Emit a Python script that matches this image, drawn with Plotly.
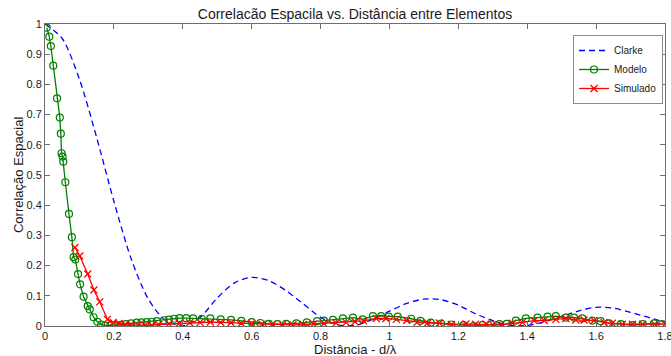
import plotly.graph_objects as go

# ---- data ----
clarke_x = [0.00, 0.05, 0.10, 0.15, 0.20, 0.25, 0.30, 0.35, 0.40, 0.45, 0.50, 0.55,
            0.60, 0.65, 0.70, 0.75, 0.80, 0.85, 0.90, 0.95, 1.00, 1.05, 1.10, 1.15,
            1.20, 1.25, 1.30, 1.35, 1.40, 1.45, 1.50, 1.55, 1.60, 1.65, 1.70, 1.75, 1.80]
clarke_y = [1.000, 0.952, 0.817, 0.624, 0.413, 0.223, 0.089, 0.018, 0.001, 0.028, 0.093, 0.143,
            0.161, 0.150, 0.117, 0.073, 0.029, 0.004, 0.002, 0.021, 0.049, 0.075, 0.089, 0.087,
            0.069, 0.040, 0.018, 0.002, 0.002, 0.014, 0.032, 0.050, 0.062, 0.059, 0.045, 0.029, 0.012]

modelo_x = [0.005, 0.0125, 0.017, 0.024, 0.035, 0.043, 0.046, 0.048, 0.051, 0.053, 0.059, 0.0696,
            0.078, 0.083, 0.088, 0.096, 0.102, 0.112, 0.124, 0.130, 0.141, 0.152, 0.163, 0.175,
            0.19, 0.205, 0.22, 0.235, 0.25, 0.266, 0.28, 0.295, 0.31, 0.325, 0.345, 0.36,
            0.375, 0.39, 0.41, 0.43, 0.455, 0.48, 0.51, 0.54, 0.57, 0.60, 0.625, 0.65,
            0.675, 0.70, 0.73, 0.76, 0.79, 0.81, 0.836, 0.865, 0.894, 0.922, 0.952, 0.976,
            0.998, 1.024, 1.063, 1.09, 1.12, 1.15, 1.18, 1.215, 1.244, 1.27, 1.295, 1.319,
            1.34, 1.367, 1.396, 1.43, 1.459, 1.483, 1.512, 1.536, 1.56, 1.589, 1.613, 1.638,
            1.672, 1.706, 1.735, 1.768, 1.792]
modelo_y = [0.988, 0.958, 0.927, 0.862, 0.754, 0.690, 0.637, 0.572, 0.561, 0.544, 0.476, 0.371,
            0.294, 0.228, 0.220, 0.172, 0.138, 0.097, 0.066, 0.055, 0.029, 0.014, 0.005, 0.001,
            0.002, 0.003, 0.004, 0.006, 0.009, 0.011, 0.012, 0.013, 0.014, 0.016, 0.019, 0.021,
            0.024, 0.026, 0.026, 0.025, 0.024, 0.025, 0.022, 0.020, 0.017, 0.013, 0.010, 0.007,
            0.006, 0.007, 0.009, 0.012, 0.016, 0.018, 0.020, 0.025, 0.028, 0.022, 0.033, 0.033,
            0.031, 0.031, 0.024, 0.017, 0.011, 0.008, 0.005, 0.003, 0.000, 0.003, 0.005, 0.006,
            0.007, 0.018, 0.025, 0.028, 0.031, 0.033, 0.028, 0.028, 0.025, 0.018, 0.016, 0.009,
            0.006, 0.003, 0.006, 0.009, 0.006]

simulado_x = [0.087, 0.101, 0.124, 0.142, 0.159, 0.181, 0.198, 0.215, 0.232, 0.25, 0.27, 0.29,
              0.31, 0.33, 0.36, 0.39, 0.42, 0.45, 0.48, 0.51, 0.54, 0.57, 0.60, 0.63,
              0.66, 0.69, 0.72, 0.75, 0.78, 0.81, 0.845, 0.874, 0.90, 0.925, 0.962, 0.99,
              1.02, 1.05, 1.08, 1.111, 1.145, 1.18, 1.222, 1.25, 1.28, 1.30, 1.323, 1.357,
              1.386, 1.42, 1.449, 1.483, 1.512, 1.541, 1.565, 1.594, 1.623, 1.647, 1.676, 1.705,
              1.735, 1.77, 1.80]
simulado_y = [0.260, 0.232, 0.172, 0.119, 0.080, 0.022, 0.012, 0.008, 0.005, 0.004, 0.003, 0.002,
              0.003, 0.005, 0.007, 0.009, 0.011, 0.012, 0.013, 0.012, 0.011, 0.009, 0.008, 0.006,
              0.005, 0.004, 0.004, 0.005, 0.007, 0.008, 0.010, 0.012, 0.014, 0.017, 0.025, 0.025,
              0.022, 0.018, 0.012, 0.010, 0.010, 0.005, 0.007, 0.006, 0.007, 0.004, 0.003, 0.009,
              0.012, 0.018, 0.018, 0.022, 0.025, 0.020, 0.020, 0.018, 0.012, 0.009, 0.006, 0.006,
              0.006, 0.006, 0.006]

x_ticks = [0, 0.2, 0.4, 0.6, 0.8, 1, 1.2, 1.4, 1.6, 1.8]
x_tick_labels = ["0", "0.2", "0.4", "0.6", "0.8", "1", "1.2", "1.4", "1.6", "1.8"]
y_ticks = [0, 0.1, 0.2, 0.3, 0.4, 0.5, 0.6, 0.7, 0.8, 0.9, 1]
y_tick_labels = ["0", "0.1", "0.2", "0.3", "0.4", "0.5", "0.6", "0.7", "0.8", "0.9", "1"]

title_text = "Correlacão Espacila vs. Distância entre Elementos"
x_title_text = "Distância - d/λ"
y_title_text = "Correlação Espacial"

FONT = "Liberation Sans, Arial, sans-serif"
TXT = "#1a1a1a"

fig = go.Figure()
fig.add_trace(go.Scatter(
    x=clarke_x, y=clarke_y, name="Clarke", mode="lines",
    line=dict(color="#0000ff", width=1.3, dash="6px,4px", shape="spline", smoothing=0.8),
))
fig.add_trace(go.Scatter(
    x=modelo_x, y=modelo_y, name="Modelo", mode="lines+markers",
    line=dict(color="#008000", width=1.3),
    marker=dict(symbol="circle-open", size=7, color="#008000", line=dict(width=1.2)),
))
fig.add_trace(go.Scatter(
    x=simulado_x, y=simulado_y, name="Simulado", mode="lines+markers",
    line=dict(color="#ff0000", width=1.3),
    marker=dict(symbol="x-thin-open", size=7, color="#ff0000", line=dict(width=1.3, color="#ff0000")),
))

axis_common = dict(
    showline=True, linecolor="#6e6e6e", linewidth=1, mirror="ticks",
    ticks="inside", ticklen=5, tickcolor="#6e6e6e", tickwidth=1,
    showgrid=False, zeroline=False, automargin=False,
    tickfont=dict(family=FONT, size=11, color=TXT),
)

fig.update_layout(
    width=671, height=356,
    margin=dict(l=45, r=6, t=24, b=30),
    paper_bgcolor="white", plot_bgcolor="white",
    font=dict(family=FONT, color=TXT),
    title=dict(text=title_text,
               x=0.5, xref="paper", xanchor="center",
               y=1 - 14 / 356, yref="container", yanchor="middle",
               font=dict(family=FONT, size=14, color=TXT)),
    xaxis=dict(range=[0, 1.8], tickvals=x_ticks, ticktext=x_tick_labels,
               ticklabeloverflow="allow", **axis_common),
    yaxis=dict(range=[0, 1], tickvals=y_ticks, ticktext=y_tick_labels,
               **axis_common),
    legend=dict(x=0.9968, y=0.9636, xanchor="right", yanchor="top",
                bgcolor="white", bordercolor="#8c8c8c", borderwidth=1,
                font=dict(family=FONT, size=10, color=TXT),
                itemwidth=30, tracegroupgap=0),
    showlegend=True,
    annotations=[
        dict(text=x_title_text, xref="paper", yref="paper", x=0.5, y=-0.078,
             xanchor="center", yanchor="middle", showarrow=False,
             font=dict(family=FONT, size=13, color=TXT)),
        dict(text=y_title_text, xref="paper", yref="paper", x=-0.0435, y=0.5,
             xanchor="center", yanchor="middle", showarrow=False, textangle=-90,
             font=dict(family=FONT, size=13, color=TXT)),
    ],
)

fig.write_html("out.html")
